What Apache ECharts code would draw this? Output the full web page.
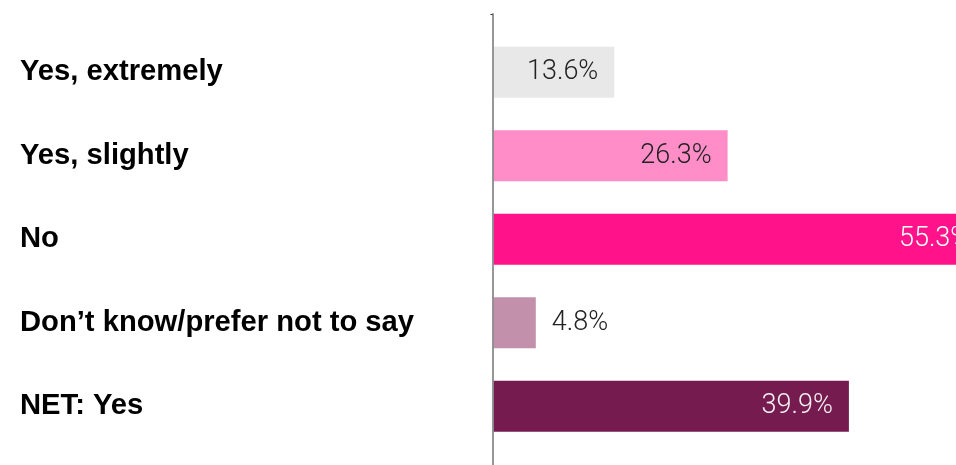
<!DOCTYPE html>
<html>
<head>
<meta charset="utf-8">
<script src="https://cdn.jsdelivr.net/npm/echarts@6/dist/echarts.min.js"></script>
<style>
  html, body { margin: 0; padding: 0; background: #fff; }
  #chart { width: 956px; height: 465px; }
</style>
</head>
<body>
<div id="chart"></div>
<script>
const categories = ['Yes, extremely', 'Yes, slightly', 'No', 'Don’t know/prefer not to say', 'NET: Yes'];
const values = [13.6, 26.3, 55.3, 4.8, 39.9];
const barColors = ['#e8e8e8', '#ff8dc7', '#ff128a', '#c390ab', '#761b50'];
const labelColors = ['#222', '#222', '#fff', '#222', '#f2f2f2'];

const chart = echarts.init(document.getElementById('chart'));

const data = values.map((v, i) => ({
  value: v,
  itemStyle: { color: barColors[i] },
  label: {
    // short bars get the label outside
    position: v < 8 ? 'right' : 'insideRight',
    color: labelColors[i]
  }
}));

chart.setOption({
  animation: false,
  grid: [
    // plot runs past the right edge, the long bar is cut like in the source
    { left: 493, top: 30.5, height: 417.5, width: 892, outerBoundsMode: 'none' },
    // only carries the long vertical axis line
    { left: 492.5, top: 14, height: 451, width: 100, outerBoundsMode: 'none' }
  ],
  xAxis: [
    { gridIndex: 0, type: 'value', min: 0, max: 100, show: false },
    { gridIndex: 1, type: 'value', min: 0, max: 1, show: false }
  ],
  yAxis: [
    {
      gridIndex: 0,
      type: 'category',
      data: categories,
      inverse: true,
      axisLine: { show: false },
      axisTick: { show: false },
      axisLabel: {
        align: 'left',
        margin: 473,
        color: '#000',
        fontFamily: 'Liberation Sans, Arial, sans-serif',
        fontWeight: 'bold',
        fontSize: 29.2,
        padding: [0, 0, 8, 0]
      }
    },
    {
      gridIndex: 1,
      type: 'value',
      min: 0,
      max: 1,
      interval: 1,
      z: 10,
      axisLine: { show: true, lineStyle: { color: '#8c8c8c', width: 1.8 } },
      axisTick: { show: true, length: 2, lineStyle: { color: '#222', width: 1 } },
      axisLabel: { show: false },
      splitLine: { show: false }
    }
  ],
  series: [{
    type: 'bar',
    xAxisIndex: 0,
    yAxisIndex: 0,
    barWidth: 51,
    clip: false,
    data: data,
    label: {
      show: true,
      distance: 16,
      fontFamily: 'Roboto, Liberation Sans, sans-serif',
      fontWeight: 300,
      fontSize: 27,
      formatter: p => p.value.toFixed(1) + '%'
    }
  }]
});
</script>
</body>
</html>
